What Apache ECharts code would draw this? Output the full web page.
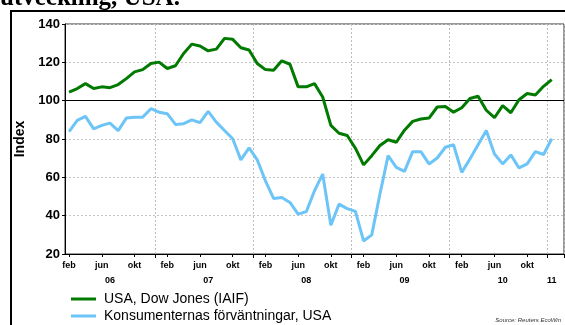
<!DOCTYPE html>
<html>
<head>
<meta charset="utf-8">
<script src="https://cdn.jsdelivr.net/npm/echarts@6/dist/echarts.min.js"></script>
<style>
html, body { margin: 0; padding: 0; background: #fff; }
#chart { width: 565px; height: 325px; }
</style>
</head>
<body>
<div id="chart"></div>
<script>
// månader feb 2006 - feb 2011
var months = [
	'feb 06','mar 06','apr 06','maj 06','jun 06','jul 06','aug 06','sep 06','okt 06','nov 06','dec 06',
	'jan 07','feb 07','mar 07','apr 07','maj 07','jun 07','jul 07','aug 07','sep 07','okt 07','nov 07','dec 07',
	'jan 08','feb 08','mar 08','apr 08','maj 08','jun 08','jul 08','aug 08','sep 08','okt 08','nov 08','dec 08',
	'jan 09','feb 09','mar 09','apr 09','maj 09','jun 09','jul 09','aug 09','sep 09','okt 09','nov 09','dec 09',
	'jan 10','feb 10','mar 10','apr 10','maj 10','jun 10','jul 10','aug 10','sep 10','okt 10','nov 10','dec 10',
	'jan 11','feb 11'
];
var monthTicks = ['feb', 'jun', 'okt'];
var yearLabelMonths = ['jul 06', 'jul 07', 'jul 08', 'jul 09', 'jul 10', 'jan 11'];

var dowJones = [
	104.5, 106.3, 108.9, 106.3, 107.2, 106.8, 108.4, 111.5, 115, 116.2,
	119.4, 120.1, 116.8, 118.2, 124.6, 129.5, 128.5, 126, 126.9, 132.5,
	132, 127.6, 126.4, 119.4, 116.2, 115.9, 120.8, 119, 107.2, 107.2,
	108.9, 101.9, 87.1, 83, 81.8, 75.2, 66.5, 71.3, 76.6, 79.6,
	78.3, 84.6, 89.2, 90.4, 90.9, 96.7, 97, 94, 96.3, 101.1,
	102.3, 95, 91.1, 97.4, 93.7, 100.5, 103.7, 103, 107.5, 111
];
var konsument = [
	83.9, 89.7, 91.8, 85.3, 87.1, 88.3, 84.4, 90.9, 91.4, 91.4,
	95.8, 94, 93.2, 87.6, 88, 90, 88.5, 94.4, 88.8, 84.4,
	80.1, 69.1, 75.4, 69.1, 58.2, 49, 49.5, 46.9, 40.8, 42.1,
	53, 61.7, 35, 46, 43.7, 42.2, 26.8, 30, 51.3, 71.3,
	65.2, 63.1, 73.4, 73.4, 67, 70.1, 75.7, 77, 62.6, 69.6,
	77, 84.4, 72.2, 67, 71.7, 64.9, 67, 73.4, 71.9, 80.1
];

var FONT = 'Liberation Sans, Arial, sans-serif';

var chart = echarts.init(document.getElementById('chart'));

// feb/jun/okt, inte sista tomma månaden
function isMonthTick(idx) {
	return idx < dowJones.length && monthTicks.indexOf(months[idx].split(' ')[0]) >= 0;
}
function isYearStart(idx) {
	return months[idx].split(' ')[0] === 'jan';
}

var legendText = { fontFamily: FONT, fontSize: 14, color: '#000', padding: [0, 0, 0, 3] };

var option = {
	animation: false,
	backgroundColor: '#fff',
	textStyle: { fontFamily: FONT, color: '#000' },
	grid: {
		left: 65,
		right: 1,
		top: 24,
		bottom: 71,
		show: true,
		borderColor: '#333',
		borderWidth: 1
	},
	legend: [
		{
			left: 66,
			top: 287,
			icon: 'rect',
			itemWidth: 25,
			itemHeight: 3,
			textStyle: legendText,
			data: ['USA, Dow Jones (IAIF)']
		},
		{
			left: 66,
			top: 304,
			icon: 'rect',
			itemWidth: 25,
			itemHeight: 3,
			textStyle: legendText,
			data: ['Konsumenternas förväntningar, USA']
		}
	],
	xAxis: [
		{
			type: 'category',
			data: months,
			boundaryGap: true,
			axisLine: { show: true, lineStyle: { color: '#000', width: 1 } },
			axisTick: {
				show: true,
				alignWithLabel: true,
				length: 3,
				interval: function (idx) { return isMonthTick(idx); },
				lineStyle: { color: '#000' }
			},
			axisLabel: {
				interval: function (idx) { return isMonthTick(idx); },
				formatter: function (v) { return v.split(' ')[0]; },
				fontFamily: FONT,
				fontSize: 9,
				fontWeight: 'bold',
				color: '#000',
				margin: 7
			},
			splitLine: { show: false }
		},
		{
			type: 'category',
			data: months,
			boundaryGap: true,
			position: 'bottom',
			axisLine: { show: false },
			axisTick: {
				show: true,
				alignWithLabel: false,
				length: 4,
				interval: function (idx) { return isYearStart(idx); },
				lineStyle: { color: '#000' }
			},
			axisLabel: {
				interval: function (idx) { return yearLabelMonths.indexOf(months[idx]) >= 0; },
				formatter: function (v) { return v.split(' ')[1]; },
				fontFamily: FONT,
				fontSize: 9,
				fontWeight: 'bold',
				color: '#000',
				margin: 22
			},
			splitLine: {
				show: true,
				interval: function (idx) { return isYearStart(idx); },
				lineStyle: { color: '#bdbdbd', type: [2, 2], width: 1 }
			}
		}
	],
	yAxis: {
		type: 'value',
		min: 20,
		max: 140,
		interval: 20,
		name: 'Index',
		nameLocation: 'middle',
		nameRotate: 90,
		nameGap: 37,
		nameTextStyle: { fontFamily: FONT, fontSize: 14, fontWeight: 'bold', color: '#000' },
		axisLine: { show: true, lineStyle: { color: '#000', width: 1 } },
		axisTick: { show: true, length: 3, inside: false, lineStyle: { color: '#000' } },
		axisLabel: { fontFamily: FONT, fontSize: 13, fontWeight: 'bold', color: '#000', margin: 5 },
		splitLine: { show: true, lineStyle: { color: '#c4c4c4', type: [2, 2], width: 1 } }
	},
	series: [
		{
			name: 'USA, Dow Jones (IAIF)',
			type: 'line',
			xAxisIndex: 0,
			data: dowJones,
			symbol: 'none',
			color: '#007a00',
			lineStyle: { color: '#007a00', width: 3 },
			z: 4,
			markLine: {
				silent: true,
				symbol: 'none',
				label: { show: false },
				lineStyle: { color: '#000', type: 'solid', width: 1.2 },
				data: [{ yAxis: 100 }],
				z: 3
			}
		},
		{
			name: 'Konsumenternas förväntningar, USA',
			type: 'line',
			xAxisIndex: 0,
			data: konsument,
			symbol: 'none',
			color: '#6cc4f7',
			lineStyle: { color: '#6cc4f7', width: 3 },
			z: 4
		}
	],
	graphic: [
		{
			type: 'text',
			left: 0,
			top: -14,
			style: {
				text: 'utveckling, USA.',
				font: 'bold 25px "Liberation Serif", "Times New Roman", serif',
				fill: '#000'
			}
		},
		{
			type: 'line',
			shape: { x1: 10, y1: 11, x2: 565, y2: 11 },
			style: { stroke: '#000', lineWidth: 2 }
		},
		{
			type: 'line',
			shape: { x1: 11, y1: 10, x2: 11, y2: 325 },
			style: { stroke: '#000', lineWidth: 2 }
		},
		{
			type: 'text',
			right: 4,
			top: 317,
			style: {
				text: 'Source: Reuters EcoWin',
				font: 'italic 6px ' + FONT,
				fill: '#333'
			}
		}
	]
};

chart.setOption(option);
</script>
</body>
</html>
